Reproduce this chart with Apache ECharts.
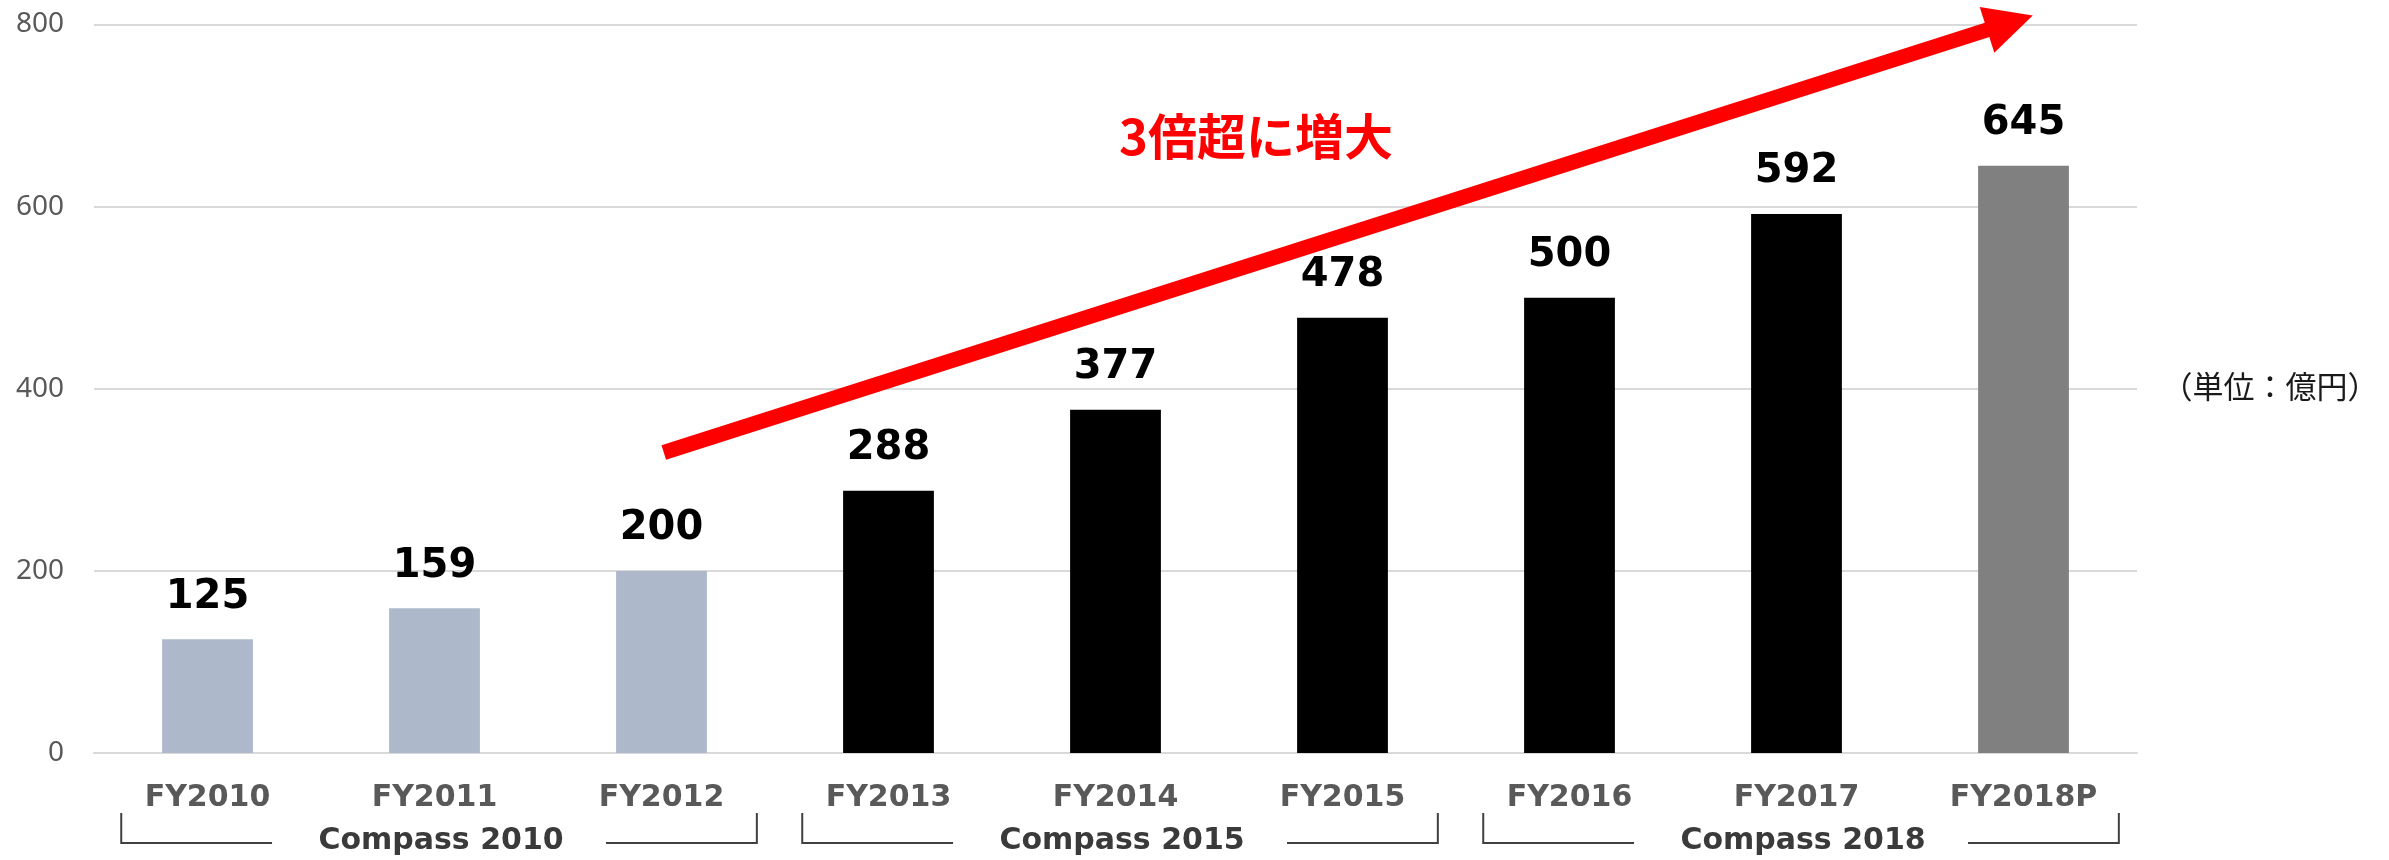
<!DOCTYPE html>
<html>
<head>
<meta charset="utf-8">
<script src="https://cdn.jsdelivr.net/npm/echarts@6/dist/echarts.min.js"></script>
<style>
  html, body { margin: 0; padding: 0; background: #fff; }
  #chart { width: 2389px; height: 860px; }
</style>
</head>
<body>
<div id="chart"></div>
<script>
// データ
const categories = ["FY2010", "FY2011", "FY2012", "FY2013", "FY2014", "FY2015", "FY2016", "FY2017", "FY2018P"];
const values = [125, 159, 200, 288, 377, 478, 500, 592, 645];
const yTicks = [0, 200, 400, 600, 800];

// 中期経営計画のグループ
const groupNames = ["Compass 2010", "Compass 2015", "Compass 2018"];
const groupFirst = [0, 3, 6];
const groupLast = [2, 5, 8];

// 矢印 (FY2012 → FY2018P付近), [カテゴリ位置, 値]
const arrowFrom = [2.01, 330];
const arrowTo = [7.94, 802];
const arrowText = "3倍超に増大";
const unitText = "（単位：億円）";

const barColor = (i) => {
  if (i === categories.length - 1) return "#808080"; // 見込み
  if (i < 3) return "#adb9ca";
  return "#000000";
};

const chart = echarts.init(document.getElementById("chart"));

const option = {
  animation: false,
  grid: { left: 94, right: 252, top: 24.5, bottom: 107, containLabel: false },
  xAxis: {
    type: "category",
    data: categories,
    axisTick: { show: false },
    axisLine: { lineStyle: { color: "#d9d9d9", width: 2 } },
    axisLabel: {
      margin: 30,
      color: "#595959",
      fontFamily: "DejaVu Sans",
      fontWeight: "bold",
      fontSize: 30,
    },
  },
  yAxis: {
    type: "value",
    min: yTicks[0],
    max: yTicks[yTicks.length - 1],
    interval: yTicks[1] - yTicks[0],
    axisLine: { show: false },
    axisTick: { show: false },
    splitLine: { lineStyle: { color: "#d9d9d9", width: 2 } },
    axisLabel: {
      margin: 30,
      color: "#595959",
      fontFamily: "Noto Sans",
      fontSize: 28,
    },
  },
  series: [
    {
      type: "bar",
      data: values,
      barWidth: "40%",
      itemStyle: { color: (p) => barColor(p.dataIndex) },
      label: {
        show: true,
        position: "top",
        distance: 22,
        color: "#000",
        fontFamily: "DejaVu Sans",
        fontWeight: "bold",
        fontSize: 40,
      },
    },
  ],
};

chart.setOption(option);

// カテゴリ位置(小数可) → ピクセル
const px = (i) => chart.convertToPixel({ xAxisIndex: 0 }, categories[i]);
const band = px(1) - px(0);
const xAt = (pos) => px(0) + pos * band;
const yAt = (v) => chart.convertToPixel({ yAxisIndex: 0 }, v);
const axisY = yAt(0);

// 矢印
chart.setOption({
  series: [
    {
      markLine: {
        silent: true,
        symbol: ["none", "triangle"],
        symbolSize: [48, 48],
        label: { show: false },
        lineStyle: { color: "#ff0000", width: 15, type: "solid" },
        data: [[
          { x: xAt(arrowFrom[0]), y: yAt(arrowFrom[1]) },
          { x: xAt(arrowTo[0]), y: yAt(arrowTo[1]) },
        ]],
      },
    },
  ],
});

// ブラケットとグループ名、注記
const graphics = [];

groupNames.forEach((name, g) => {
  const left = px(groupFirst[g]) - band * 0.38;
  const right = px(groupLast[g]) + band * 0.42;
  const mid = (left + right) / 2;
  const top = axisY + 60;
  const bottom = axisY + 90;
  const gap = 167;
  const line = { stroke: "#404040", lineWidth: 2, fill: null };
  graphics.push({
    type: "polyline",
    shape: { points: [[left, top], [left, bottom], [mid - gap, bottom]] },
    style: line,
  });
  graphics.push({
    type: "polyline",
    shape: { points: [[mid + gap, bottom], [right, bottom], [right, top]] },
    style: line,
  });
  graphics.push({
    type: "text",
    x: mid + 2,
    y: axisY + 88,
    style: {
      text: name,
      fill: "#3a3a3a",
      font: "bold 30px 'DejaVu Sans'",
      textAlign: "center",
      textVerticalAlign: "middle",
    },
  });
});

graphics.push({
  type: "text",
  x: 1256,
  y: 136,
  style: {
    text: arrowText,
    fill: "#ff0000",
    font: "bold 49px 'Noto Sans CJK JP'",
    textAlign: "center",
    textVerticalAlign: "middle",
  },
});

graphics.push({
  type: "text",
  x: 2270,
  y: 386,
  style: {
    text: unitText,
    fill: "#1a1a1a",
    font: "31px 'Noto Sans CJK JP'",
    textAlign: "center",
    textVerticalAlign: "middle",
  },
});

chart.setOption({ graphic: graphics });
</script>
</body>
</html>
